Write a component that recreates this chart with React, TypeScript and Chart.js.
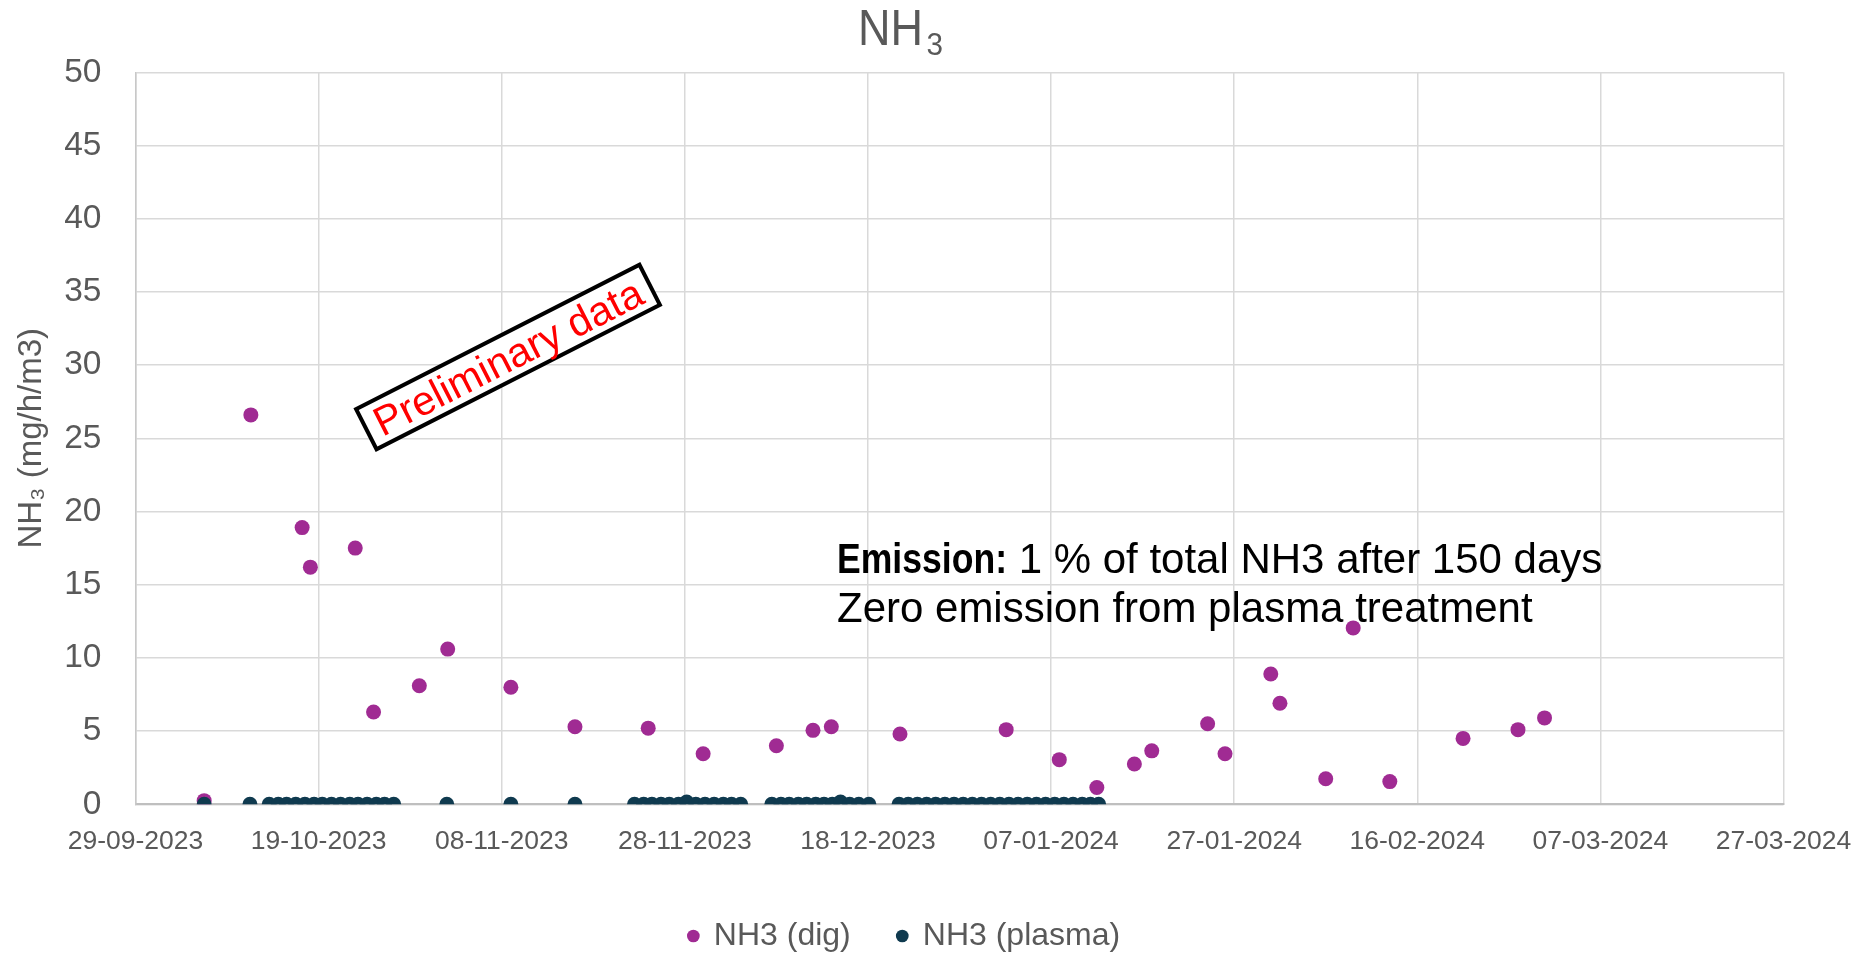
import React, { useEffect, useRef } from 'react';
import { Chart, registerables } from 'chart.js';

Chart.register(...registerables);

const FONT = '"Liberation Sans", Arial, Helvetica, sans-serif';
const GREY_TEXT = '#595959';

// ---- Data (x = days since 29-09-2023) ----
const xTickDays = [0, 20, 40, 60, 80, 100, 120, 140, 160, 180];
const xTickLabels = [
  '29-09-2023', '19-10-2023', '08-11-2023', '28-11-2023', '18-12-2023',
  '07-01-2024', '27-01-2024', '16-02-2024', '07-03-2024', '27-03-2024',
];

const digDays = [
  7.5, 12.6, 18.2, 19.1, 24.0, 26.0, 31.0, 34.1, 41.0, 48.0, 56.0, 62.0, 70.0,
  74.0, 76.0, 83.5, 95.1, 100.9, 105.0, 109.1, 111.0, 117.1, 119.0, 124.0,
  125.0, 130.0, 133.0, 137.0, 145.0, 151.0, 153.9,
];
const digValues = [
  0.25, 26.6, 18.9, 16.2, 17.5, 6.3, 8.1, 10.6, 8.0, 5.3, 5.2, 3.45, 4.0,
  5.05, 5.3, 4.8, 5.1, 3.05, 1.15, 2.75, 3.65, 5.5, 3.45, 8.9,
  6.9, 1.75, 12.05, 1.55, 4.5, 5.1, 5.9,
];

const plasmaDays = [
  7.5, 12.5,
  14.6, 15.6, 16.5, 17.5, 18.5, 19.5, 20.4, 21.4, 22.4, 23.4, 24.3, 25.3, 26.3, 27.2, 28.2,
  34.0, 41.0, 48.0,
  54.5, 55.5, 56.4, 57.4, 58.3, 59.3, 60.2, 61.2, 62.2, 63.2, 64.2, 65.1, 66.1,
  69.5, 70.5, 71.4, 72.4, 73.3, 74.3, 75.2, 76.1, 77.0, 78.0, 79.0, 80.1,
  83.4, 84.4, 85.4, 86.4, 87.4, 88.4, 89.4, 90.4, 91.4, 92.4, 93.4, 94.4,
  95.4, 96.4, 97.4, 98.4, 99.4, 100.4, 101.4, 102.4, 103.4, 104.3, 105.2,
];
const plasmaValues = [
  0, 0,
  0, 0, 0, 0, 0, 0, 0, 0, 0, 0, 0, 0, 0, 0, 0,
  0, 0, 0,
  0, 0, 0, 0, 0, 0, 0.15, 0, 0, 0, 0, 0, 0,
  0, 0, 0, 0, 0, 0, 0, 0, 0.15, 0, 0, 0,
  0, 0, 0, 0, 0, 0, 0, 0, 0, 0, 0, 0,
  0, 0, 0, 0, 0, 0, 0, 0, 0, 0, 0,
];

const seriesNames = ['NH3 (dig)', 'NH3 (plasma)'];
const seriesColors = ['#A02B93', '#0F3A4F'];

const titleMain = 'NH';
const titleSub = '3';
const yAxisTitle = 'NH\u2083 (mg/h/m3)';
const boxText = 'Preliminary data';
const noteBold = 'Emission:';
const noteLine1 = ' 1 % of total NH3 after 150 days';
const noteLine2 = 'Zero emission from plasma treatment';

const W = 1865;
const H = 957;
const POINT_R = 7.5;

const annotationPlugin = {
  id: 'customAnnotations',
  afterDraw(chart: any) {
    const ctx: CanvasRenderingContext2D = chart.ctx;
    ctx.save();

    // Title with subscript (narrow, as in the original)
    ctx.fillStyle = GREY_TEXT;
    ctx.textBaseline = 'alphabetic';
    ctx.textAlign = 'left';
    ctx.font = `50px ${FONT}`;
    ctx.fillText(titleMain, 858, 45, 65);
    ctx.font = `32px ${FONT}`;
    ctx.fillText(titleSub, 926.5, 55, 16.5);

    // Rotated "Preliminary data" box
    ctx.save();
    ctx.translate(508, 357);
    ctx.rotate((-27 * Math.PI) / 180);
    ctx.fillStyle = '#ffffff';
    ctx.fillRect(-159, -22.5, 318, 45);
    ctx.lineWidth = 4;
    ctx.strokeStyle = '#000000';
    ctx.strokeRect(-159, -22.5, 318, 45);
    ctx.fillStyle = '#FF0000';
    ctx.font = `41px ${FONT}`;
    ctx.textAlign = 'center';
    ctx.textBaseline = 'middle';
    ctx.fillText(boxText, 0, 3);
    ctx.restore();

    // Emission note
    ctx.fillStyle = '#000000';
    ctx.textAlign = 'left';
    ctx.textBaseline = 'alphabetic';
    ctx.font = `bold 42px ${FONT}`;
    const bwFull = ctx.measureText(noteBold).width;
    const bw = Math.min(bwFull, 170);
    ctx.fillText(noteBold, 837, 573, 170);
    ctx.font = `42px ${FONT}`;
    ctx.fillText(noteLine1, 837 + bw, 573);
    ctx.fillText(noteLine2, 837, 622);

    ctx.restore();
  },
};

export default function App() {
  const canvasRef = useRef<HTMLCanvasElement | null>(null);

  useEffect(() => {
    const canvas = canvasRef.current;
    if (!canvas) return;
    Chart.defaults.font.family = FONT;

    const digData = digDays.map((d, i) => ({ x: d, y: digValues[i] }));
    const plasmaData = plasmaDays.map((d, i) => ({ x: d, y: plasmaValues[i] }));

    const chart = new Chart(canvas, {
      type: 'scatter',
      data: {
        datasets: [
          {
            label: seriesNames[0],
            data: digData,
            backgroundColor: seriesColors[0],
            borderColor: seriesColors[0],
            pointBackgroundColor: seriesColors[0],
            pointBorderColor: seriesColors[0],
            pointRadius: POINT_R,
            pointBorderWidth: 0,
            order: 1,
          },
          {
            label: seriesNames[1],
            data: plasmaData,
            backgroundColor: seriesColors[1],
            borderColor: seriesColors[1],
            pointBackgroundColor: seriesColors[1],
            pointBorderColor: seriesColors[1],
            pointRadius: POINT_R,
            pointBorderWidth: 0,
            order: 0,
          },
        ],
      },
      options: {
        responsive: false,
        animation: false,
        devicePixelRatio: 1,
        elements: { point: { radius: POINT_R, borderWidth: 0, hoverRadius: POINT_R } },
        layout: { padding: { top: 72.3, left: 0, right: 56, bottom: -5 } },
        plugins: {
          title: { display: false },
          tooltip: { enabled: false },
          legend: {
            display: true,
            position: 'bottom',
            labels: {
              usePointStyle: true,
              pointStyle: 'circle',
              boxWidth: 9,
              boxHeight: 9,
              padding: 47,
              color: GREY_TEXT,
              font: { size: 32, family: FONT },
              sort: (a: any, b: any) => a.datasetIndex - b.datasetIndex,
            },
          },
        },
        scales: {
          x: {
            type: 'linear',
            min: 0,
            max: 180,
            afterFit: (scale: any) => {
              scale.height = 68.7;
              scale.paddingRight = 81.5;
            },
            ticks: {
              stepSize: 20,
              autoSkip: false,
              maxRotation: 0,
              minRotation: 0,
              padding: 21.3,
              color: GREY_TEXT,
              font: { size: 26.5, family: FONT },
              callback: (value: any) => {
                const i = xTickDays.indexOf(Number(value));
                return i >= 0 ? xTickLabels[i] : '';
              },
            },
            grid: { color: '#d9d9d9', lineWidth: 1.5, drawTicks: false },
            border: { display: true, color: '#bfbfbf', width: 2 },
          },
          y: {
            type: 'linear',
            min: 0,
            max: 50,
            afterFit: (scale: any) => {
              scale.width = 135.5;
            },
            ticks: {
              stepSize: 5,
              padding: 34,
              color: GREY_TEXT,
              font: { size: 33.5, family: FONT },
            },
            grid: { color: '#d9d9d9', lineWidth: 1.5, drawTicks: false },
            border: { display: true, color: '#c8c8c8', width: 1.5 },
            title: {
              display: true,
              text: yAxisTitle,
              color: GREY_TEXT,
              font: { size: 33, family: FONT },
              padding: { top: 12.5, bottom: 0 },
            },
          },
        },
      },
      plugins: [annotationPlugin],
    } as any);

    return () => {
      chart.destroy();
    };
  }, []);

  return (
    <div style={{ position: 'absolute', left: 0, top: 0, width: W, height: H, background: '#ffffff' }}>
      <canvas ref={canvasRef} width={W} height={H} style={{ display: 'block', width: W, height: H }} />
    </div>
  );
}
